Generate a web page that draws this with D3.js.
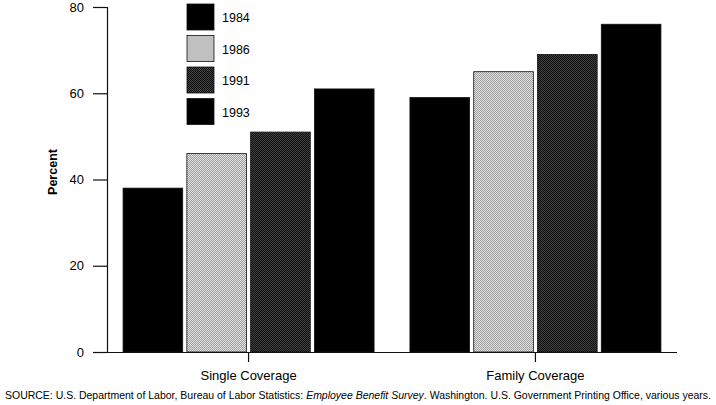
<!DOCTYPE html>
<html>
<head>
<meta charset="utf-8">
<script src="https://cdn.jsdelivr.net/npm/d3@7"></script>
<style>
  body { margin: 0; background: #fff; }
  svg { display: block; font-family: "Liberation Sans", Arial, sans-serif; }
</style>
</head>
<body>
<script>
// values
const categories = ['Single Coverage', 'Family Coverage']
const years = ['1984', '1986', '1991', '1993']
const single = [38, 46, 51, 61]
const family = [59, 65, 69, 76]
const yTicks = [0, 20, 40, 60, 80]

const rows = categories.map((c, i) => ({
  category: c,
  values: (i === 0 ? single : family).map((v, j) => ({year: years[j], value: v}))
}))

const config = {
  width: 716,
  height: 405,
  left: 107,
  right: 677,
  top: 7,
  bottom: 352
}

const svg = d3.select('body').append('svg')
  .attr('width', config.width)
  .attr('height', config.height)

// halftone-ish fills
const defs = svg.append('defs')
const pat = (id, a, b) => {
  const p = defs.append('pattern').attr('id', id)
    .attr('width', 2).attr('height', 2).attr('patternUnits', 'userSpaceOnUse')
  p.append('rect').attr('width', 2).attr('height', 2).attr('fill', a)
  p.append('rect').attr('width', 1).attr('height', 1).attr('fill', b)
  p.append('rect').attr('x', 1).attr('y', 1).attr('width', 1).attr('height', 1).attr('fill', b)
}
pat('light', '#e6e6e6', '#9a9a9a')
pat('dark', '#444', '#0d0d0d')

const fills = {'1984': '#000', '1986': 'url(#light)', '1991': 'url(#dark)', '1993': '#000'}

const y = d3.scaleLinear().domain([0, 80]).range([config.bottom, config.top])

const x0 = d3.scaleBand().domain(categories)
  .range([config.left, config.right])
  .paddingInner(0.125).paddingOuter(0.056)

const x1 = d3.scaleBand().domain(years)
  .range([0, x0.bandwidth()])
  .paddingInner(0.065).paddingOuter(0)

// bars
const groups = svg.selectAll('g.group').data(rows).enter().append('g')
  .attr('class', 'group')
  .attr('transform', d => `translate(${x0(d.category)},0)`)

groups.selectAll('rect').data(d => d.values).enter().append('rect')
  .attr('x', d => x1(d.year))
  .attr('y', d => y(d.value))
  .attr('width', x1.bandwidth())
  .attr('height', d => y(0) - y(d.value))
  .attr('fill', d => fills[d.year])
  .attr('stroke', '#111')
  .attr('stroke-width', 0.8)

// y axis
const yAxis = svg.append('g')
  .attr('transform', `translate(${config.left},0)`)
  .call(d3.axisLeft(y).tickValues(yTicks).tickSize(14).tickPadding(9))
yAxis.select('.domain').attr('stroke', '#111').attr('stroke-width', 1.2)
yAxis.selectAll('.tick line').attr('stroke', '#111').attr('stroke-width', 1.2)
yAxis.selectAll('.tick text').attr('font-size', 13).attr('fill', '#000')
  .attr('font-family', '"Liberation Sans", Arial, sans-serif')

// x axis (baseline + category ticks)
const xAxis = svg.append('g')
  .attr('transform', `translate(0,${config.bottom})`)
  .call(d3.axisBottom(x0).tickSize(10).tickPadding(9).tickSizeOuter(0))
xAxis.select('.domain').attr('stroke', '#111').attr('stroke-width', 1.2)
  .attr('d', `M${config.left - 14},0.5H${config.right}`)
xAxis.selectAll('.tick line').attr('stroke', '#111').attr('stroke-width', 1.2)
xAxis.selectAll('.tick text').attr('font-size', 13).attr('fill', '#000')
  .attr('font-family', '"Liberation Sans", Arial, sans-serif')

// y label
svg.append('text')
  .attr('transform', 'translate(57,172) rotate(-90)')
  .attr('text-anchor', 'middle')
  .attr('font-size', 12.5)
  .attr('font-weight', 'bold')
  .text('Percent')

// legend
const legend = svg.append('g').attr('transform', 'translate(187,4)')
const item = legend.selectAll('g').data(years).enter().append('g')
  .attr('transform', (d, i) => `translate(0,${i * 31.5})`)
item.append('rect')
  .attr('width', 27).attr('height', 26)
  .attr('fill', d => fills[d])
  .attr('stroke', '#111').attr('stroke-width', 0.8)
item.append('text')
  .attr('x', 35).attr('y', 18)
  .attr('font-size', 12.5)
  .text(d => d)

// source note
const src = svg.append('text')
  .attr('x', 5).attr('y', 399)
  .attr('font-size', 10.4)
  .attr('textLength', 706)
  .attr('lengthAdjust', 'spacingAndGlyphs')
src.append('tspan').text('SOURCE: U.S. Department of Labor, Bureau of Labor Statistics: ')
src.append('tspan').attr('font-style', 'italic').text('Employee Benefit Survey')
src.append('tspan').text('. Washington. U.S. Government Printing Office, various years.')
</script>
</body>
</html>
